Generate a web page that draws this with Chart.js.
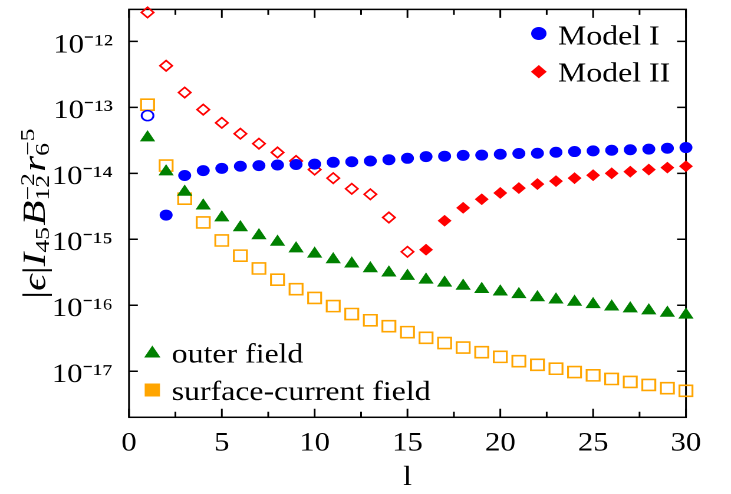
<!DOCTYPE html>
<html>
<head>
<meta charset="utf-8">
<script src="https://cdn.jsdelivr.net/npm/chart.js@4"></script>
<style>
  html, body { margin: 0; padding: 0; background: #ffffff; overflow: hidden; }
  #wrap { position: absolute; left: 0; top: 0; width: 620px; height: 494px;
          transform: scaleX(1.179); transform-origin: 0 0; }
</style>
</head>
<body>
<div id="wrap"><canvas id="c" width="620" height="494"></canvas></div>
<script>
// ---- data (negative value = drawn as open symbol; plotted as absolute value) ----
const lValues = [1,2,3,4,5,6,7,8,9,10,11,12,13,14,15,16,17,18,19,20,21,22,23,24,25,26,27,28,29,30];

const modelI = [-7.5e-14, 2.33e-15, 9.27e-15, 1.10e-14, 1.19e-14, 1.28e-14, 1.31e-14, 1.34e-14, 1.36e-14, 1.38e-14,
                1.47e-14, 1.50e-14, 1.54e-14, 1.61e-14, 1.69e-14, 1.79e-14, 1.82e-14, 1.87e-14, 1.89e-14, 1.95e-14,
                2.00e-14, 2.02e-14, 2.09e-14, 2.14e-14, 2.19e-14, 2.24e-14, 2.28e-14, 2.33e-14, 2.40e-14, 2.46e-14];

const modelII = [-2.75e-12, -4.28e-13, -1.68e-13, -9.25e-14, -5.83e-14, -3.99e-14, -2.82e-14, -2.07e-14, -1.54e-14, -1.14e-14,
                 -8.45e-15, -5.83e-15, -4.81e-15, -2.14e-15, -6.46e-16, 6.95e-16, 1.91e-15, 3.0e-15, 4.05e-15, 5.04e-15,
                 5.98e-15, 6.87e-15, 7.62e-15, 8.45e-15, 9.37e-15, 1.00e-14, 1.06e-14, 1.14e-14, 1.22e-14, 1.28e-14];

const outerField = [3.48e-14, 1.06e-14, 5.22e-15, 3.22e-15, 2.13e-15, 1.51e-15, 1.14e-15, 9.08e-16, 7.21e-16, 6.0e-16,
                    4.93e-16, 4.25e-16, 3.61e-16, 3.11e-16, 2.77e-16, 2.42e-16, 2.18e-16, 1.96e-16, 1.75e-16, 1.60e-16,
                    1.46e-16, 1.31e-16, 1.21e-16, 1.12e-16, 1.03e-16, 9.5e-17, 8.87e-17, 8.28e-17, 7.64e-17, 7.13e-17];

const surfaceCurrentField = [-1.10e-13, -1.31e-14, -4.13e-15, -1.80e-15, -9.59e-16, -5.65e-16, -3.61e-16, -2.44e-16, -1.75e-16, -1.29e-16,
                             -9.70e-17, -7.36e-17, -5.92e-17, -4.81e-17, -3.91e-17, -3.21e-17, -2.67e-17, -2.28e-17, -1.94e-17, -1.65e-17,
                             -1.42e-17, -1.25e-17, -1.09e-17, -9.70e-18, -8.65e-18, -7.62e-18, -6.87e-18, -6.19e-18, -5.52e-18, -5.04e-18];

const xTickValues = [0, 5, 10, 15, 20, 25, 30];
const xTickLabels = ['0', '5', '10', '15', '20', '25', '30'];
const yTickValues = [1e-17, 1e-16, 1e-15, 1e-14, 1e-13, 1e-12];
const yTickLabels = ['10⁻¹⁷', '10⁻¹⁶', '10⁻¹⁵', '10⁻¹⁴', '10⁻¹³', '10⁻¹²'];

const seriesLabels = ['Model I', 'Model II', 'outer field', 'surface-current field'];
// y-axis title |ϵ| I_45 B_12^-2 r_6^-5 as pieces: [main, subscript, superscript]
const yTitleParts = [['|', '', ''], ['ϵ', '', ''], ['|', '', ''], ['I', '45', ''], ['B', '12', '−2'], ['r', '6', '−5']];
// ---------------------------------------------------------------------------

const SERIF = '"Liberation Serif", "Times New Roman", serif';

function makeSet(label, values, color, style, radius) {
  return {
    label: label,
    data: lValues.map((l, i) => ({ x: l, y: Math.abs(values[i]) })),
    pointStyle: style,
    pointRadius: radius,
    pointHoverRadius: radius,
    borderColor: color,
    backgroundColor: color,
    pointBorderColor: color,
    pointBackgroundColor: (ctx) => values[ctx.dataIndex] < 0 ? 'rgba(255,255,255,0)' : color,
    pointBorderWidth: (ctx) => values[ctx.dataIndex] < 0 ? 1.6 : 1,
    showLine: false,
    clip: false
  };
}

function drawMarker(ctx, style, x, y, r, color) {
  ctx.save();
  ctx.fillStyle = color;
  ctx.strokeStyle = color;
  ctx.lineWidth = 1;
  ctx.beginPath();
  if (style === 'circle') {
    ctx.arc(x, y, r, 0, Math.PI * 2);
  } else if (style === 'rectRot') {
    ctx.moveTo(x - r, y); ctx.lineTo(x, y - r); ctx.lineTo(x + r, y); ctx.lineTo(x, y + r);
  } else if (style === 'triangle') {
    ctx.moveTo(x, y - r);
    ctx.lineTo(x + r * Math.sin(2 * Math.PI / 3), y - r * Math.cos(2 * Math.PI / 3));
    ctx.lineTo(x + r * Math.sin(4 * Math.PI / 3), y - r * Math.cos(4 * Math.PI / 3));
  } else {
    const s = r * Math.SQRT1_2;
    ctx.rect(x - s, y - s, 2 * s, 2 * s);
  }
  ctx.closePath();
  ctx.fill();
  ctx.stroke();
  ctx.restore();
}

function drawYTitle(ctx, o) {
  const mainUp = o.size + 'px ' + SERIF;
  const mainIt = 'italic ' + o.size + 'px ' + SERIF;
  const script = o.scriptSize + 'px ' + SERIF;
  let len = 0;
  const widths = yTitleParts.map((p, i) => {
    ctx.font = (i === 0 || i === 2) ? mainUp : mainIt;
    const wm = ctx.measureText(p[0]).width;
    ctx.font = script;
    const ws = Math.max(p[1] ? ctx.measureText(p[1]).width : 0, p[2] ? ctx.measureText(p[2]).width : 0);
    len += wm + ws + (ws ? o.scriptGap : 0);
    return [wm, ws];
  });
  const k = o.length / len;
  ctx.save();
  ctx.translate(o.x, o.y);
  ctx.rotate(-Math.PI / 2);
  ctx.scale(k, 1);
  ctx.fillStyle = '#000';
  ctx.textBaseline = 'alphabetic';
  ctx.textAlign = 'left';
  let u = 0;
  yTitleParts.forEach((p, i) => {
    ctx.font = (i === 0 || i === 2) ? mainUp : mainIt;
    ctx.fillText(p[0], u, 0);
    u += widths[i][0];
    ctx.font = script;
    if (p[1]) ctx.fillText(p[1], u, o.subShift);
    if (p[2]) ctx.fillText(p[2], u + o.supIndent, o.supShift);
    if (widths[i][1]) u += widths[i][1] + o.scriptGap;
  });
  ctx.restore();
}

const framePlugin = {
  id: 'frameTicks',
  beforeDatasetsDraw(chart) {
    const { ctx, chartArea: a, scales } = chart;
    const xs = scales.x, ys = scales.y;
    ctx.save();
    ctx.strokeStyle = '#000';
    ctx.lineWidth = 1.5;
    ctx.strokeRect(a.left, a.top, a.right - a.left, a.bottom - a.top);
    ctx.beginPath();
    for (let i = 0; i < xTickValues.length; i++) {
      const px = xs.getPixelForValue(xTickValues[i]);
      ctx.moveTo(px, a.bottom); ctx.lineTo(px, a.bottom - 8.5);
      ctx.moveTo(px, a.top); ctx.lineTo(px, a.top + 8.5);
      if (i < xTickValues.length - 1) {
        const pm = xs.getPixelForValue((xTickValues[i] + xTickValues[i + 1]) / 2);
        ctx.moveTo(pm, a.bottom); ctx.lineTo(pm, a.bottom - 5.5);
        ctx.moveTo(pm, a.top); ctx.lineTo(pm, a.top + 5.5);
      }
    }
    for (const v of yTickValues) {
      const py = ys.getPixelForValue(v);
      ctx.moveTo(a.left, py); ctx.lineTo(a.left + 7.5, py);
      ctx.moveTo(a.right, py); ctx.lineTo(a.right - 7.5, py);
    }
    ctx.stroke();
    ctx.restore();
  },
  afterDraw(chart, args, opts) {
    const { ctx } = chart;
    ctx.save();
    ctx.font = '27px ' + SERIF;
    ctx.fillStyle = '#000';
    ctx.textBaseline = 'alphabetic';
    ctx.textAlign = 'left';
    opts.items.forEach((it) => {
      const ds = chart.data.datasets[it.index];
      drawMarker(ctx, ds.pointStyle, it.mx, it.my, it.r, ds.borderColor);
      ctx.fillText(ds.label, it.tx, it.ty);
    });
    ctx.restore();
    drawYTitle(ctx, opts.yTitle);
  }
};

new Chart(document.getElementById('c'), {
  type: 'scatter',
  data: {
    datasets: [
      makeSet(seriesLabels[0], modelI, '#0000ff', 'circle', 5),
      makeSet(seriesLabels[1], modelII, '#ff0000', 'rectRot', 5.2),
      makeSet(seriesLabels[2], outerField, '#008000', 'triangle', 6.5),
      makeSet(seriesLabels[3], surfaceCurrentField, '#ffa500', 'rect', 7.8)
    ]
  },
  options: {
    responsive: false,
    animation: false,
    devicePixelRatio: 2,
    layout: { padding: { left: 0, right: 38.2, top: 5.3, bottom: 0 } },
    plugins: {
      legend: { display: false },
      tooltip: { enabled: false },
      frameTicks: {
        items: [
          { index: 0, mx: 457, my: 33.5, r: 6, tx: 473.3, ty: 44.3 },
          { index: 1, mx: 457, my: 71.7, r: 6, tx: 473.3, ty: 81.7 },
          { index: 2, mx: 129.2, my: 353.5, r: 7, tx: 145.6, ty: 362.7 },
          { index: 3, mx: 129.2, my: 390, r: 8.5, tx: 145.6, ty: 400 }
        ],
        yTitle: { x: 38, y: 299, length: 172, size: 27, scriptSize: 17, scriptGap: 1,
                  subShift: 3.5, supShift: -9, supIndent: 0 }
      }
    },
    scales: {
      x: {
        type: 'linear',
        min: 0, max: 30,
        afterFit(s) { s.height = 76.7; s.paddingLeft = 0; s.paddingRight = 0; },
        afterBuildTicks(s) { s.ticks = xTickValues.map(v => ({ value: v })); },
        grid: { display: false, drawTicks: false },
        border: { display: false },
        ticks: {
          color: '#000',
          padding: 10.6,
          maxRotation: 0,
          font: { family: SERIF, size: 26 },
          callback: (v, i) => xTickLabels[i]
        },
        title: {
          display: true,
          text: 'l',
          color: '#000',
          font: { family: SERIF, size: 27 },
          padding: { top: 0, bottom: 0 }
        }
      },
      y: {
        type: 'logarithmic',
        min: 2.0e-18, max: 3.06e-12,
        afterFit(s) { s.width = 109.4; s.paddingTop = 0; s.paddingBottom = 0; },
        afterBuildTicks(s) { s.ticks = yTickValues.map(v => ({ value: v })); },
        grid: { display: false, drawTicks: false },
        border: { display: false },
        ticks: {
          color: '#000',
          padding: 13.6,
          labelOffset: 4,
          font: { family: SERIF, size: 26 },
          callback: (v, i) => yTickLabels[i]
        },
        title: { display: false }
      }
    }
  },
  plugins: [framePlugin]
});
</script>
</body>
</html>
